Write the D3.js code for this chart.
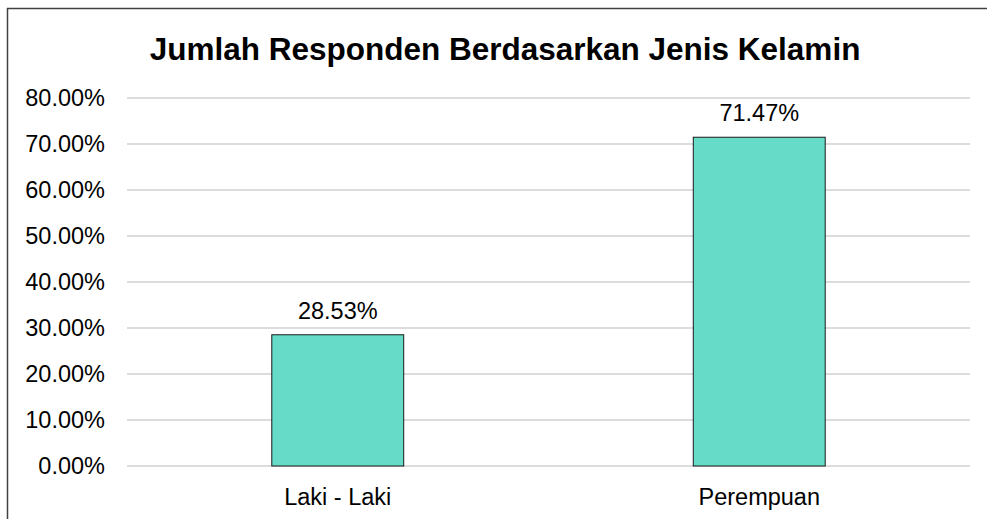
<!DOCTYPE html>
<html><head><meta charset="utf-8">
<script src="https://cdn.jsdelivr.net/npm/d3@7"></script>
<style>body{margin:0;background:#fff}svg{display:block}text{font-family:"Liberation Sans",Arial,sans-serif}</style>
</head><body>
<script>
const categories = ["Laki - Laki", "Perempuan"];
const values = [28.53, 71.47];
const yTicks = [0, 10, 20, 30, 40, 50, 60, 70, 80];
const title = "Jumlah Responden Berdasarkan Jenis Kelamin";

const W = 987, H = 519;
const FS = 23.5;
const svg = d3.select("body").append("svg").attr("width", W).attr("height", H);
svg.append("rect").attr("width", W).attr("height", H).attr("fill", "#fff");
// frame
svg.append("path").attr("d", `M7.5,${H} V8.5 H${W}`).attr("fill","none").attr("stroke","#404040").attr("stroke-width",1.5);

const m = {l:127, r:970, t:98, b:466};
const x = d3.scaleBand().domain(categories).range([m.l, m.r]).paddingInner(0.687).paddingOuter(0.3435);
const y = d3.scaleLinear().domain([0, 80]).range([m.b, m.t]);

svg.append("g").selectAll("line").data(yTicks).join("line")
  .attr("x1", m.l).attr("x2", m.r).attr("y1", d => y(d)).attr("y2", d => y(d))
  .attr("stroke", "#d0d0d0").attr("stroke-width", 1.3);

const yAxis = d3.axisLeft(y).tickValues(yTicks).tickSize(0).tickPadding(0).tickFormat(d => d.toFixed(2) + "%");
svg.append("g").attr("transform", `translate(105,0)`).call(yAxis)
  .call(g => g.select(".domain").remove())
  .selectAll("text").attr("font-size", FS).attr("fill", "#000").attr("font-family", '"Liberation Sans",Arial,sans-serif');

svg.append("g").selectAll("rect").data(values).join("rect")
  .attr("x", (d,i) => x(categories[i])).attr("width", x.bandwidth())
  .attr("y", d => y(d)).attr("height", d => y(0) - y(d))
  .attr("fill", "#66dbc7").attr("stroke", "#1a1a1a").attr("stroke-width", 1);

svg.append("g").selectAll("text").data(values).join("text")
  .attr("x", (d,i) => x(categories[i]) + x.bandwidth()/2).attr("y", d => y(d) - 16)
  .attr("text-anchor", "middle").attr("font-size", FS).attr("fill", "#000")
  .text(d => d.toFixed(2) + "%");

const xAxis = d3.axisBottom(x).tickSize(0).tickPadding(0);
svg.append("g").attr("transform", `translate(0,488)`).call(xAxis)
  .call(g => g.select(".domain").remove())
  .selectAll("text").attr("font-size", FS).attr("fill", "#000").attr("font-family", '"Liberation Sans",Arial,sans-serif');

svg.append("text").attr("x", 505).attr("y", 60).attr("text-anchor", "middle")
  .attr("font-size", 31.5).attr("font-weight", "bold").attr("fill", "#000").text(title);
</script>
</body></html>
